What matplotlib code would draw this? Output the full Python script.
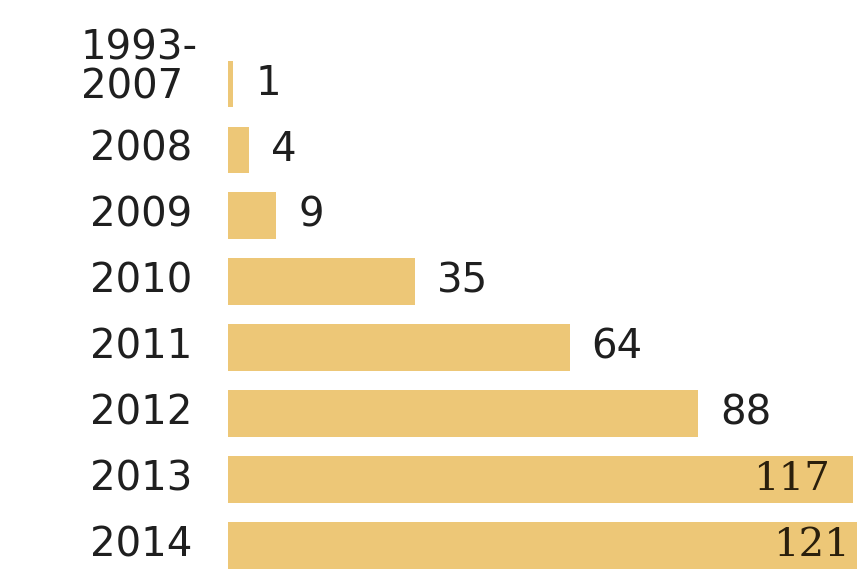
import matplotlib
matplotlib.use("Agg")
import matplotlib.pyplot as plt

categories = ["1993-\n2007", "2008", "2009", "2010", "2011", "2012", "2013", "2014"]
values = [1, 4, 9, 35, 64, 88, 117, 121]

BAR = "#EDC777"
TXT = "#1f1f1f"
fig = plt.figure(figsize=(8.57, 5.69), dpi=100)
fig.patch.set_facecolor("white")
ax = fig.add_axes([228 / 857, 0, 1 - 228 / 857, 1])
ax.set_xlim(0, 117.8)
ax.set_ylim(7.36, -1.275)
ax.axis("off")

y = list(range(len(values)))
ax.barh(y, values, height=0.71, color=BAR, linewidth=0)

fs = 29
xmax = ax.get_xlim()[1]
inside_off = {6: -23, 7: -7}
for i, (c, v) in enumerate(zip(categories, values)):
    if "\n" in c:
        ax.annotate(c, xy=(0, i), xytext=(-30, -23), textcoords="offset pixels",
                    ha="right", va="bottom", fontsize=fs, color=TXT,
                    multialignment="left", linespacing=0.95, annotation_clip=False)
    else:
        ax.annotate(c, xy=(0, i), xytext=(-36, 0), textcoords="offset pixels",
                    ha="right", va="center", fontsize=fs, color=TXT,
                    annotation_clip=False)
    if v <= xmax - 10:
        ax.annotate(str(v), xy=(v, i), xytext=(22, 0), textcoords="offset pixels",
                    ha="left", va="center", fontsize=fs, color=TXT)
    else:
        ax.annotate(str(v), xy=(min(v, xmax), i), xytext=(inside_off[i], 0),
                    textcoords="offset pixels", ha="right", va="center",
                    fontsize=fs, color="#2a1f0c", fontfamily="DejaVu Serif")

fig.savefig("out.png", dpi=100, facecolor="white")
